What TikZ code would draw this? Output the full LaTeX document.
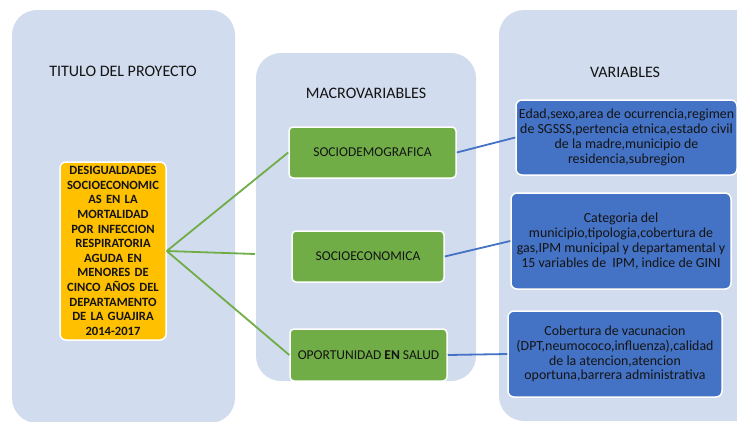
\documentclass[tikz,border=0pt]{standalone}
\usepackage{fontspec}
\setmainfont{Carlito}
\definecolor{panelc}{RGB}{209,220,238}
\definecolor{orangec}{RGB}{255,192,0}
\definecolor{greenc}{RGB}{112,173,71}
\definecolor{bluec}{RGB}{68,114,196}
\definecolor{textc}{RGB}{20,20,20}
\tikzset{
  panelbox/.style={fill=panelc, rounded corners=25pt},
  paneltitle/.style={font=\fontsize{16}{19}\selectfont, text=textc},
  orangebox/.style={draw=white, line width=1.5pt, fill=orangec, rounded corners=6pt, align=center, inner sep=0pt, font=\bfseries\fontsize{12.6}{14.6}\selectfont, text=textc},
  greenbox/.style={draw=white, line width=1.5pt, fill=greenc, rounded corners=4pt, align=center, font=\fontsize{13.5}{16}\selectfont, text=textc},
  bluebox/.style={draw=white, line width=1.5pt, fill=bluec, rounded corners=6pt, align=center, inner sep=1pt, font=\fontsize{13.9}{14.8}\selectfont, text=textc},
  gline/.style={draw=greenc, line width=1.8pt},
  bline/.style={draw=bluec, line width=1.8pt}
}
\begin{document}
\begin{tikzpicture}[x=1pt,y=-1pt]
\useasboundingbox (0,0) rectangle (737,421);
\begin{scope}
\clip (0,0) rectangle (737,421);
\fill[panelbox] (12,10) rectangle (235,423);
\fill[panelbox] (256,53) rectangle (476,381);
\fill[panelbox] (499,10) rectangle (770,421);
\end{scope}
\node[paneltitle] (t1) at (123,71) {TITULO DEL PROYECTO};
\node[paneltitle] (t2) at (366,93) {MACROVARIABLES};
\node[paneltitle] (t3) at (625,72) {VARIABLES};

\node[orangebox, minimum width=106pt, minimum height=178pt, text width=106pt] (title) at (113,251)
 {DESIGUALDADES\\SOCIOECONOMIC\\AS EN LA\\MORTALIDAD\\POR INFECCION\\RESPIRATORIA\\AGUDA EN\\MENORES DE\\CINCO AÑOS DEL\\DEPARTAMENTO\\DE LA GUAJIRA\\2014-2017};

\node[greenbox, minimum width=167pt, minimum height=51pt] (sd) at (372.5,152.5) {SOCIODEMOGRAFICA};
\node[greenbox, minimum width=152pt, minimum height=51pt] (se) at (368,256.5) {SOCIOECONOMICA};
\node[greenbox, minimum width=157pt, minimum height=52pt] (op) at (368.5,355) {OPORTUNIDAD \textbf{EN} SALUD};

\node[bluebox, minimum width=221pt, minimum height=75pt] (b1) at (626.5,137.5)
 {Edad,sexo,area de ocurrencia,regimen\\de SGSSS,pertencia etnica,estado civil\\de la madre,municipio de\\residencia,subregion};
\node[bluebox, minimum width=220pt, minimum height=96pt] (b2) at (621,241)
 {Categoria del\\municipio,tipologia,cobertura de\\gas,IPM municipal y departamental y\\15 variables de\ \ IPM, indice de GINI};
\node[bluebox, minimum width=214pt, minimum height=86pt] (b3) at (615,354)
 {Cobertura de vacunacion\\(DPT,neumococo,influenza),calidad\\de la atencion,atencion\\oportuna,barrera administrativa};

\coordinate (mid) at (255,254);
\draw[gline] (title.east) -- (sd.west);
\draw[gline] (title.east) -- (mid);
\draw[gline] (title.east) -- (op.west);

\draw[bline] (sd.east) -- (b1.west);
\draw[bline] (se.east) -- (b2.west);
\draw[bline] (op.east) -- (b3.west);
\end{tikzpicture}
\end{document}
